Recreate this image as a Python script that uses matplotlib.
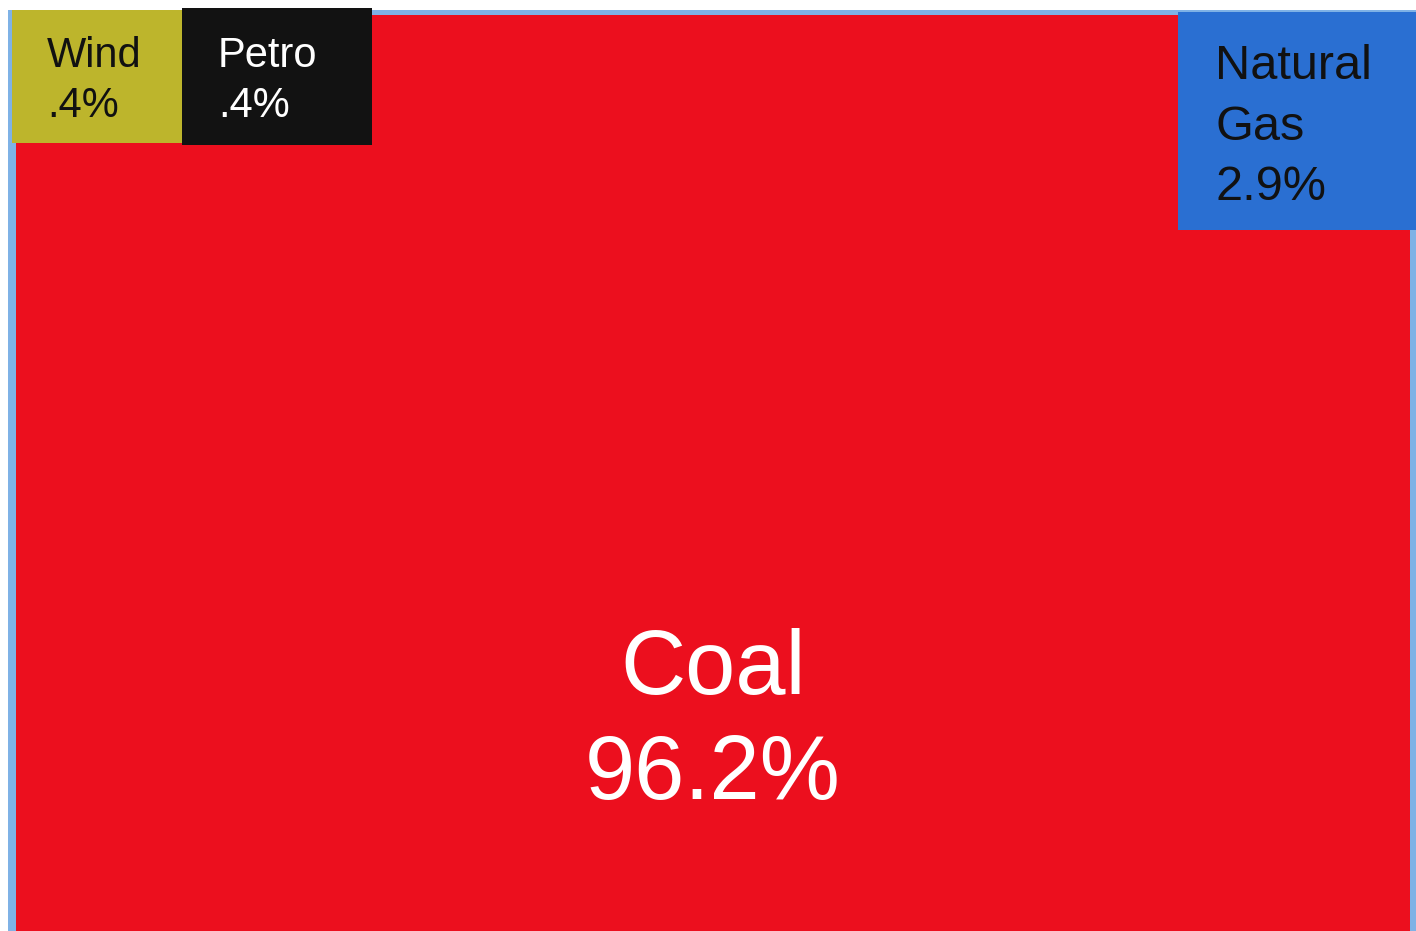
import matplotlib.pyplot as plt
from matplotlib.patches import Rectangle

plt.rcParams['font.family'] = ['Liberation Sans', 'DejaVu Sans']

# share of generation by source
sources = ["Coal", "Natural\nGas", "Wind", "Petro"]
shares = [96.2, 2.9, 0.4, 0.4]
labels = ["96.2%", "2.9%", ".4%", ".4%"]

# block layout in pixel units: x0, y0, x1, y1
boxes = [(16, 15, 1410, 931), (1178, 12, 1416, 230), (12, 10, 182, 143), (182, 8, 372, 145)]
fills = ["#ec0f1e", "#2a6fd2", "#bdb52c", "#121212"]
inks = ["white", "#111111", "#111111", "white"]

fig = plt.figure(figsize=(14.16, 9.31), dpi=100)
ax = fig.add_axes([0, 0, 1, 1])
ax.set_xlim(0, 1416)
ax.set_ylim(931, 0)
ax.axis("off")

# thin light-blue frame behind the blocks
ax.add_patch(Rectangle((8, 10), 1416 - 8, 931 - 10, facecolor="#7fb2e6", edgecolor="none"))

for i, (name, val, lab) in enumerate(zip(sources, shares, labels)):
    x0, y0, x1, y1 = boxes[i]
    ax.add_patch(Rectangle((x0, y0), x1 - x0, y1 - y0, facecolor=fills[i], edgecolor="none"))

# coal label centred in the big block
ax.text(713, 723, sources[0] + "\n" + labels[0], color=inks[0], fontsize=65,
        ha="center", va="center", linespacing=1.3)
# natural gas in its corner block
ax.text(1215, 127, sources[1] + "\n" + labels[1], color=inks[1], fontsize=35,
        ha="left", va="center", linespacing=1.45)
ax.text(47, 81, sources[2] + "\n" + labels[2], color=inks[2], fontsize=30,
        ha="left", va="center", linespacing=1.3)
ax.text(218, 81, sources[3] + "\n" + labels[3], color=inks[3], fontsize=30,
        ha="left", va="center", linespacing=1.3)

fig.savefig("out.png", dpi=100)
